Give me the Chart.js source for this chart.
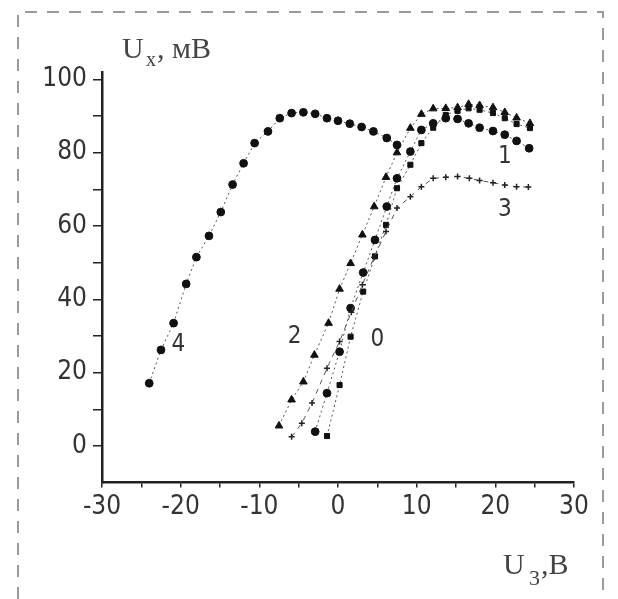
<!DOCTYPE html>
<html>
<head>
<meta charset="utf-8">
<script src="https://cdn.jsdelivr.net/npm/chart.js@4"></script>
<style>
  html, body { margin: 0; padding: 0; background: #fff; }
  #wrap { width: 618px; height: 599px; position: relative; }
</style>
</head>
<body>
<div id="wrap"><canvas id="gateChart"></canvas></div>
<script>
// curve 4 (circles, left hump)
const x4 = [-24.0, -22.5, -20.9, -19.3, -18.0, -16.4, -14.9, -13.4, -12.0, -10.6, -8.9, -7.4, -5.9, -4.4, -2.9, -1.4, 0.0, 1.5, 3.0, 4.5, 6.2, 7.5];
const y4 = [17.1, 26.2, 33.5, 44.2, 51.5, 57.3, 63.8, 71.3, 77.1, 82.6, 85.8, 89.4, 90.8, 91.0, 90.6, 89.4, 88.7, 87.9, 87.0, 85.8, 84.0, 82.1];

// curve 2 (triangles)
const x2 = [-7.5, -5.9, -4.4, -3.0, -1.2, 0.2, 1.6, 3.1, 4.6, 6.1, 7.5, 9.2, 10.6, 12.1, 13.7, 15.2, 16.6, 18.0, 19.7, 21.2, 22.7, 24.4];
const y2 = [5.5, 12.6, 17.5, 24.8, 33.5, 42.8, 49.8, 57.6, 65.3, 73.3, 80.0, 86.7, 90.5, 92.0, 92.1, 92.3, 93.2, 92.9, 92.3, 91.0, 89.5, 88.0];

// curve 3 (small crosses, dashed)
const x3 = [-5.9, -4.6, -3.3, -1.4, 0.2, 1.7, 3.1, 4.6, 6.1, 7.5, 9.2, 10.6, 12.1, 13.7, 15.2, 16.7, 18.0, 19.7, 21.2, 22.7, 24.2];
const y3 = [2.5, 6.2, 11.7, 21.2, 28.5, 36.5, 44.0, 51.5, 58.5, 64.9, 68.0, 70.7, 73.0, 73.3, 73.5, 73.0, 72.4, 71.8, 71.2, 70.7, 70.6];

// curve 1 (circles)
const x1 = [-2.9, -1.4, 0.2, 1.6, 3.2, 4.7, 6.2, 7.5, 9.2, 10.6, 12.1, 13.7, 15.2, 16.6, 18.0, 19.7, 21.2, 22.7, 24.3];
const y1 = [3.9, 14.4, 25.7, 37.6, 47.3, 56.2, 65.3, 73.0, 80.3, 86.2, 88.0, 89.4, 89.2, 88.0, 86.8, 85.9, 84.9, 83.2, 81.2];

// curve 0 (squares)
const x0 = [-1.4, 0.2, 1.6, 3.2, 4.7, 6.1, 7.5, 9.2, 10.6, 12.1, 13.7, 15.2, 16.6, 18.0, 19.7, 21.2, 22.7, 24.4];
const y0 = [2.7, 16.6, 29.8, 42.1, 51.7, 60.3, 70.3, 76.7, 82.6, 86.8, 90.3, 91.4, 92.1, 91.7, 90.8, 89.4, 87.8, 86.7];

// curve number labels: [text, x, y]
const curveLabels = [["4", -20.3, 27.6], ["2", -5.5, 29.7], ["0", 5.0, 28.9], ["1", 21.2, 78.9], ["3", 21.2, 64.4]];

const xTicks = [-30, -25, -20, -15, -10, -5, 0, 5, 10, 15, 20, 25, 30];
const yTicks = [0, 10, 20, 30, 40, 50, 60, 70, 80, 90, 100];

function pts(xs, ys) {
  return xs.map((x, i) => ({ x: x, y: ys[i] }));
}

const tickFont = { family: "'Liberation Sans Narrow', 'DejaVu Sans Condensed', Arial, sans-serif", size: 26 };

const decor = {
  id: "decor",
  beforeDraw(chart) {
    const c = chart.ctx;
    c.save();
    c.strokeStyle = "#9a9a9a";
    c.lineWidth = 2;
    c.setLineDash([12, 10]);
    c.beginPath();
    c.moveTo(18, 599);
    c.lineTo(18, 12);
    c.lineTo(603, 12);
    c.lineTo(603, 599);
    c.stroke();
    c.restore();
  },
  afterDraw(chart) {
    const c = chart.ctx;
    const xs = chart.scales.x, ys = chart.scales.y;
    c.save();
    c.fillStyle = "#333";
    c.font = "24px 'Liberation Sans Narrow', 'DejaVu Sans Condensed', sans-serif";
    c.textAlign = "center";
    c.textBaseline = "middle";
    curveLabels.forEach((l) => {
      c.fillText(l[0], xs.getPixelForValue(l[1]), ys.getPixelForValue(l[2]));
    });

    c.textAlign = "left";
    c.textBaseline = "alphabetic";
    c.fillStyle = "#444";
    c.font = "30px 'Liberation Serif', serif";
    c.fillText("U", 122, 58);
    c.font = "20px 'Liberation Serif', serif";
    c.fillText("x", 146, 66);
    c.font = "30px 'Liberation Serif', serif";
    c.fillText(", мВ", 157, 58);

    c.fillText("U", 503, 574);
    c.font = "22px 'Liberation Serif', serif";
    c.fillText("3", 529, 585);
    c.font = "30px 'Liberation Serif', serif";
    c.fillText(",В", 541, 574);
    c.restore();
  },
};

const lineCol = "#555";

new Chart(document.getElementById("gateChart"), {
  type: "scatter",
  data: {
    datasets: [
      {
        label: "4",
        data: pts(x4, y4),
        showLine: true,
        borderColor: lineCol,
        borderWidth: 1,
        borderDash: [2, 3],
        pointStyle: "circle",
        pointRadius: 3.9,
        pointBackgroundColor: "#111",
        pointBorderColor: "#111",
      },
      {
        label: "2",
        data: pts(x2, y2),
        showLine: true,
        borderColor: lineCol,
        borderWidth: 1,
        borderDash: [2, 3],
        pointStyle: "triangle",
        pointRadius: 4.4,
        pointBackgroundColor: "#111",
        pointBorderColor: "#111",
      },
      {
        label: "3",
        data: pts(x3, y3),
        showLine: true,
        borderColor: lineCol,
        borderWidth: 1,
        borderDash: [5, 5],
        pointStyle: "cross",
        pointRadius: 3,
        pointBorderWidth: 1.5,
        pointBackgroundColor: "#222",
        pointBorderColor: "#222",
      },
      {
        label: "1",
        data: pts(x1, y1),
        showLine: true,
        borderColor: lineCol,
        borderWidth: 1,
        borderDash: [2, 3],
        pointStyle: "circle",
        pointRadius: 3.9,
        pointBackgroundColor: "#111",
        pointBorderColor: "#111",
      },
      {
        label: "0",
        data: pts(x0, y0),
        showLine: true,
        borderColor: lineCol,
        borderWidth: 1,
        borderDash: [2, 3],
        pointStyle: "rect",
        pointRadius: 3.6,
        pointBackgroundColor: "#111",
        pointBorderColor: "#111",
      },
    ],
  },
  options: {
    responsive: true,
    maintainAspectRatio: false,
    animation: false,
    layout: { padding: { top: 72, right: 44, left: 0, bottom: 0 } },
    plugins: { legend: { display: false }, tooltip: { enabled: false } },
    scales: {
      x: {
        type: "linear",
        min: -30,
        max: 30,
        afterBuildTicks: (scale) => {
          scale.ticks = xTicks.map((v) => ({ value: v }));
        },
        afterFit: (scale) => {
          scale.height = 116.4;
        },
        ticks: {
          autoSkip: false,
          maxRotation: 0,
          color: "#333",
          font: tickFont,
          padding: 4,
          callback: (v) => (v % 10 === 0 ? String(v) : ""),
        },
        grid: { drawOnChartArea: false, drawTicks: true, tickLength: 5, color: "#222", lineWidth: 1.5 },
        border: { display: true, color: "#222", width: 2.5 },
      },
      y: {
        type: "linear",
        min: -10,
        max: 102,
        afterBuildTicks: (scale) => {
          scale.ticks = yTicks.map((v) => ({ value: v }));
        },
        afterFit: (scale) => {
          scale.width = 102;
        },
        ticks: {
          autoSkip: false,
          color: "#333",
          font: tickFont,
          padding: 6,
          callback: (v) => (v % 20 === 0 ? String(v) : ""),
        },
        grid: { drawOnChartArea: false, drawTicks: true, tickLength: 9, color: "#222", lineWidth: 1.5 },
        border: { display: true, color: "#222", width: 2.5 },
      },
    },
  },
  plugins: [decor],
});
</script>
</body>
</html>
